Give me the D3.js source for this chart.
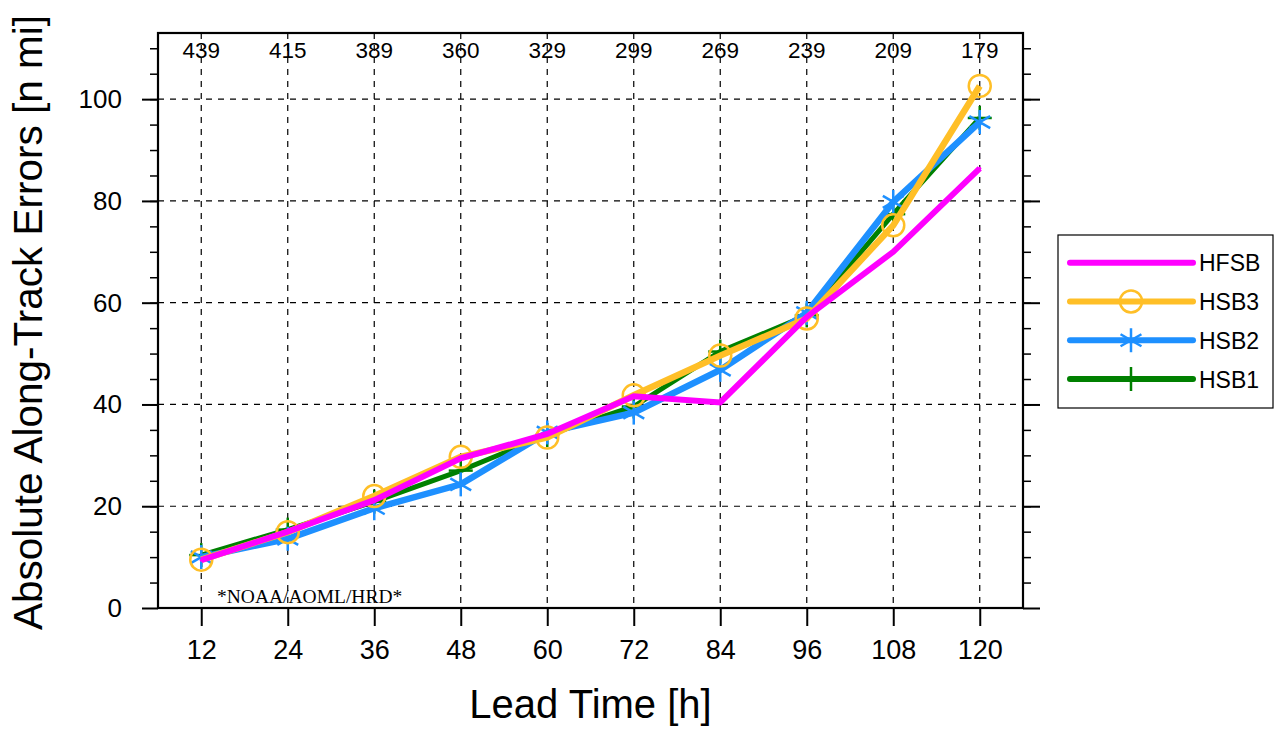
<!DOCTYPE html>
<html><head><meta charset="utf-8">
<script src="https://cdn.jsdelivr.net/npm/d3@7"></script>
<style>
html,body{margin:0;padding:0;background:#fff;}
svg text{font-family:"Liberation Sans",Arial,Helvetica,sans-serif;}
</style></head>
<body><svg id="c" width="1285" height="735"></svg>
<script>
const leadTimes = [12,24,36,48,60,72,84,96,108,120];
const caseCounts = ["439","415","389","360","329","299","269","239","209","179"];
const yTicks = [0,20,40,60,80,100];
const hfsb = [9.4,15.0,21.2,29.4,34.2,41.6,40.4,57.2,70.0,86.4];
const hsb3 = [9.5,14.9,22.0,29.7,33.5,41.8,49.6,56.9,75.2,102.6];
const hsb2 = [10.0,13.6,19.6,24.3,34.5,38.4,46.8,58.0,79.8,95.5];
const hsb1 = [10.4,15.4,20.9,27.0,34.0,39.6,50.4,57.5,77.4,96.3];
const seriesNames = ["HFSB","HSB3","HSB2","HSB1"];

const svg = d3.select("#c");
const L=158,R=1023,T=33,B=608;
const x = d3.scaleLinear().domain([6,126]).range([L,R]);
const y = d3.scaleLinear().domain([0,113]).range([B,T]);

// grid
const g = svg.append("g");
g.selectAll("line.vg").data(leadTimes).join("line")
  .attr("x1",d=>x(d)).attr("x2",d=>x(d)).attr("y1",T).attr("y2",B)
  .attr("stroke","#000").attr("stroke-width",1.2).attr("stroke-dasharray","6,6");
g.selectAll("line.hg").data(yTicks.filter(d=>d>0)).join("line")
  .attr("x1",L).attr("x2",R).attr("y1",d=>y(d)).attr("y2",d=>y(d))
  .attr("stroke","#000").attr("stroke-width",1.2).attr("stroke-dasharray","6,6");

// axes ticks
const minor = d3.range(5,113,5);
const axL = d3.axisLeft(y).tickValues(minor).tickSize(8).tickFormat("");
const axR = d3.axisRight(y).tickValues(minor).tickSize(8).tickFormat("");
svg.append("g").attr("transform",`translate(${L},0)`).call(axL).call(s=>{s.select(".domain").remove();s.selectAll("line").attr("stroke-width",1.5);});
svg.append("g").attr("transform",`translate(${R},0)`).call(axR).call(s=>{s.select(".domain").remove();s.selectAll("line").attr("stroke-width",1.5);});
const axLM = d3.axisLeft(y).tickValues(yTicks).tickSize(16).tickPadding(20).tickFormat(d3.format("d"));
svg.append("g").attr("transform",`translate(${L},0)`).call(axLM).call(s=>{s.select(".domain").remove();s.selectAll("line").attr("stroke-width",2);s.selectAll("text").attr("font-size",26).attr("font-family","'Liberation Sans',Arial,sans-serif").attr("fill","#000");});
const axRM = d3.axisRight(y).tickValues(yTicks).tickSize(17).tickFormat("");
svg.append("g").attr("transform",`translate(${R},0)`).call(axRM).call(s=>{s.select(".domain").remove();s.selectAll("line").attr("stroke-width",2);});
const axB = d3.axisBottom(x).tickValues(leadTimes).tickSize(18).tickPadding(14).tickFormat(d3.format("d"));
svg.append("g").attr("transform",`translate(0,${B})`).call(axB).call(s=>{s.select(".domain").remove();s.selectAll("line").attr("stroke-width",2);s.selectAll("text").attr("font-size",27).attr("font-family","'Liberation Sans',Arial,sans-serif").attr("fill","#000");});

// frame
svg.append("rect").attr("x",L).attr("y",T).attr("width",R-L).attr("height",B-T)
  .attr("fill","none").attr("stroke","#000").attr("stroke-width",2.2);

// counts on top
svg.selectAll("text.cnt").data(leadTimes).join("text")
  .attr("x",d=>x(d)).attr("y",58).attr("text-anchor","middle").attr("font-size",22.5)
  .text((d,i)=>caseCounts[i]);

// series
const colors = {HFSB:"#ff00ff",HSB3:"#ffbf27",HSB2:"#1e90ff",HSB1:"#008000"};
const widths = {HFSB:6,HSB3:6.5,HSB2:6.5,HSB1:5};
const dataMap = {HFSB:hfsb,HSB3:hsb3,HSB2:hsb2,HSB1:hsb1};
const line = d3.line().x((d,i)=>x(leadTimes[i])).y(d=>y(d));

function marker(sel,name,cx,cy,s){
  const c = colors[name];
  if(name==="HSB3"){
    sel.append("circle").attr("cx",cx).attr("cy",cy).attr("r",11*s).attr("fill","none").attr("stroke",c).attr("stroke-width",2.5);
  } else if(name==="HSB2"){
    const r=12*s;
    [[0,-r,0,r],[-r*0.87,-r*0.5,r*0.87,r*0.5],[-r*0.87,r*0.5,r*0.87,-r*0.5]].forEach(p=>
      sel.append("line").attr("x1",cx+p[0]).attr("y1",cy+p[1]).attr("x2",cx+p[2]).attr("y2",cy+p[3]).attr("stroke",c).attr("stroke-width",2.5));
  } else if(name==="HSB1"){
    const r=12*s;
    sel.append("line").attr("x1",cx).attr("y1",cy-r).attr("x2",cx).attr("y2",cy+r).attr("stroke",c).attr("stroke-width",2.5);
    sel.append("line").attr("x1",cx-r).attr("y1",cy).attr("x2",cx+r).attr("y2",cy).attr("stroke",c).attr("stroke-width",2.5);
  } else {
    sel.append("circle").attr("cx",cx).attr("cy",cy).attr("r",1.5).attr("fill",c);
  }
}

["HSB1","HSB2","HSB3","HFSB"].forEach(name=>{
  const gs = svg.append("g");
  gs.append("path").datum(dataMap[name]).attr("d",line).attr("fill","none")
    .attr("stroke",colors[name]).attr("stroke-width",widths[name]).attr("stroke-linejoin","miter").attr("stroke-linecap","butt");
  dataMap[name].forEach((v,i)=>marker(gs,name,x(leadTimes[i]),y(v),1));
});

// NOAA text
svg.append("text").attr("x",217).attr("y",603).attr("font-size",19.5)
  .style("font-family","'Liberation Serif','Times New Roman',serif").text("*NOAA/AOML/HRD*");

// titles
svg.append("text").attr("x",(L+R)/2).attr("y",718).attr("text-anchor","middle").attr("font-size",40).text("Lead Time [h]");
svg.append("text").attr("transform",`translate(42,${(T+B)/2+2}) rotate(-90)`).attr("text-anchor","middle").attr("font-size",40.5).text("Absolute Along-Track Errors [n mi]");

// legend
const lg = svg.append("g");
lg.append("rect").attr("x",1058).attr("y",235).attr("width",215).attr("height",173).attr("fill","#fff").attr("stroke","#000").attr("stroke-width",1.2);
const ly = d3.scalePoint().domain(seriesNames).range([262.7,379]);
seriesNames.forEach(name=>{
  const yy = ly(name);
  lg.append("line").attr("x1",1070).attr("x2",1193).attr("y1",yy).attr("y2",yy).attr("stroke",colors[name]).attr("stroke-width",6).attr("stroke-linecap","round");
  marker(lg,name,1131,yy,1);
  lg.append("text").attr("x",1199).attr("y",yy+8.5).attr("font-size",23).text(name);
});
</script></body></html>
